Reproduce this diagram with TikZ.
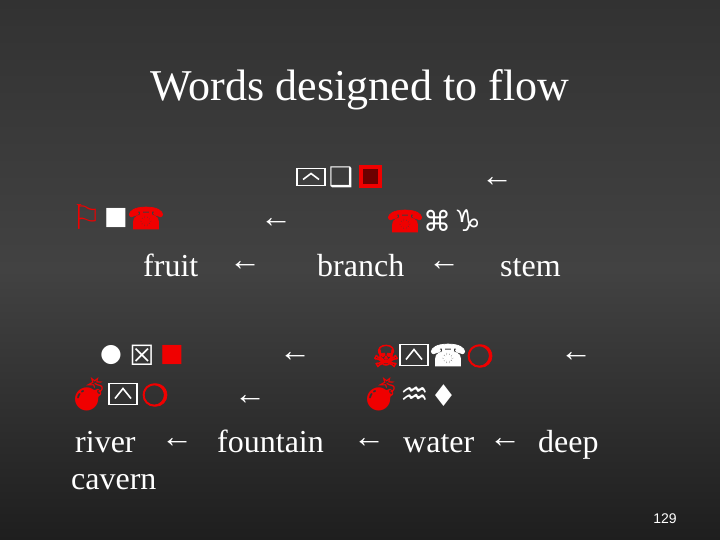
\documentclass[tikz,border=0pt]{standalone}
\usepackage{fontspec}
\setmainfont{Liberation Serif}
\newfontfamily\symf{DejaVu Sans}
\newfontfamily\symfb[FakeBold=2.5]{DejaVu Sans}
\newfontfamily\emof{Noto Emoji}
\newfontfamily\numf{Liberation Sans}
\definecolor{wred}{HTML}{F00000}
\definecolor{bgtop}{RGB}{50,50,50}
\definecolor{bgmid}{RGB}{66,66,66}
\definecolor{bgbot}{RGB}{30,30,30}
\begin{document}
\begin{tikzpicture}[x=1pt,y=-1pt,
  word/.style={anchor=base west,inner sep=0pt,text=white,font=\fontsize{32}{38}\selectfont},
  arr/.style={inner sep=0pt,text=white,font=\fontsize{32}{38}\selectfont},
  sym/.style={inner sep=0pt,font=\symf\fontsize{25}{28}\selectfont},
  wsym/.style={sym,text=white},
  rsym/.style={sym,text=wred},
  phone/.style={inner sep=0pt,font=\symfb\fontsize{30}{32}\selectfont},
  ring/.style={inner sep=0pt,text=wred,font=\symfb\fontsize{30}{32}\selectfont},
  caretbox/.style={draw=white,line width=1.6pt,minimum width=28pt,minimum height=21pt,inner sep=0pt,
    path picture={\draw[white,line width=1.6pt]
      ([xshift=6pt,yshift=6pt]path picture bounding box.south west) --
      ([yshift=-5pt]path picture bounding box.north) --
      ([xshift=-6pt,yshift=6pt]path picture bounding box.south east);}},
  redframe/.style={draw=wred,line width=4pt,fill=wred!45!black,minimum size=19pt,inner sep=0pt},
  bomb/.style={inner sep=0pt,text=wred,font=\emof\fontsize{33}{35}\selectfont}]
\useasboundingbox (0,0) rectangle (720,540);
\shade[top color=bgtop,bottom color=bgbot,middle color=bgmid] (0,0) rectangle (720,540);
% title
\node[anchor=base,inner sep=0pt,text=white,font=\fontsize{44}{50}\selectfont] (title) at (360,101) {Words designed to flow};
% line 1
\node[caretbox,minimum height=17pt] (a1) at (311,177) {};
\node[wsym,font=\symf\fontsize{27}{30}\selectfont] (a2) at (341,177) {❑};
\node[redframe] (a3) at (370,177) {};
\node[arr] (r1) at (497,182) {←};
% line 2
\node[rsym,font=\symf\fontsize{34}{36}\selectfont] (b1) at (87,217) {⚐};
\node[wsym] (b2) at (116,218) {■};
\node[phone,text=wred] (b3) at (146,218) {☎};
\node[arr] (r2) at (276,223) {←};
\node[phone,text=wred] (c1) at (405,221) {☎};
\node[wsym,font=\symf\fontsize{28}{30}\selectfont] (c2) at (437,221) {⌘};
\node[wsym,font=\symf\fontsize{30}{32}\selectfont] (c3) at (468,221) {♑};
% line 3
\node[word] (fruit) at (143,276) {fruit};
\node[arr] (r3) at (245,266) {←};
\node[word] (branch) at (317,276) {branch};
\node[arr] (r4) at (444,266) {←};
\node[word] (stem) at (500,276) {stem};
% line 4
\node[wsym] (d1) at (111,355) {●};
\node[wsym,font=\symf\fontsize{28}{30}\selectfont] (d2) at (142,355) {☒};
\node[rsym] (d3) at (172,355) {■};
\node[arr] (r5) at (295,357) {←};
\node[rsym,font=\symfb\fontsize{30}{32}\selectfont] (e1) at (386,356) {☠};
\node[caretbox] (e2) at (414,355) {};
\node[phone,text=white] (e3) at (448,355) {☎};
\node[ring] (e4) at (480,356) {❍};
\node[arr] (r6) at (576,357) {←};
% line 5
\node[bomb] (f1) at (89,394) {💣};
\node[caretbox] (f2) at (123,394) {};
\node[ring] (f3) at (155,395) {❍};
\node[arr] (r7) at (250,400) {←};
\node[bomb] (g1) at (381,394) {💣};
\node[wsym,font=\symf\fontsize{32}{34}\selectfont] (g2) at (415,396) {♒};
\node[wsym,font=\symf\fontsize{30}{32}\selectfont] (g3) at (444,396) {♦};
% line 6
\node[word] (river) at (75,452) {river};
\node[arr] (r8) at (177,443) {←};
\node[word] (fountain) at (217,452) {fountain};
\node[arr] (r9) at (369,443) {←};
\node[word] (water) at (403,452) {water};
\node[arr] (r10) at (505,443) {←};
\node[word] (deep) at (538,452) {deep};
\node[word] (cavern) at (71,489) {cavern};
% page number
\node[anchor=base,inner sep=0pt,text=white,font=\numf\fontsize{14}{16}\selectfont] (pnum) at (665,523) {129};
\end{tikzpicture}
\end{document}
